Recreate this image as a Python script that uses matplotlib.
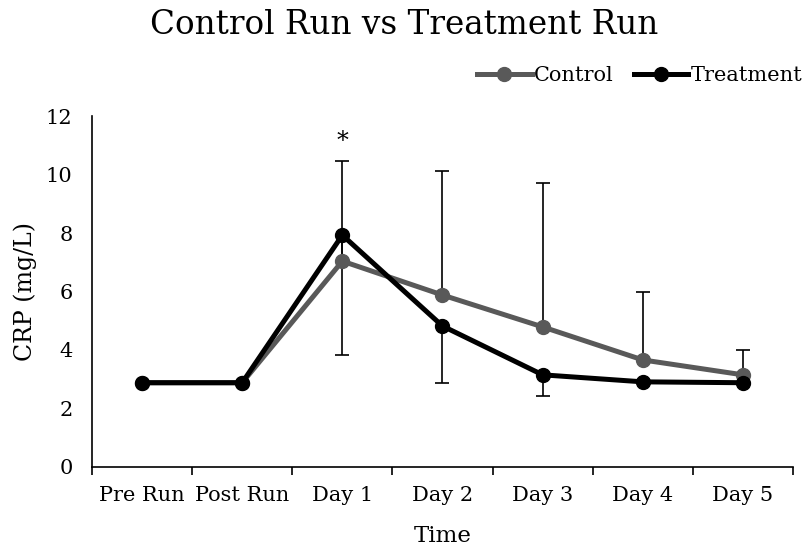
import matplotlib
matplotlib.use("Agg")
import matplotlib.pyplot as plt
import numpy as np

categories = ["Pre Run", "Post Run", "Day 1", "Day 2", "Day 3", "Day 4", "Day 5"]
control = [2.88, 2.88, 7.04, 5.88, 4.79, 3.66, 3.15]
treatment = [2.88, 2.88, 7.93, 4.82, 3.15, 2.91, 2.88]
control_err_up = [0, 0, 3.42, 4.24, 4.92, 2.32, 0.85]
treatment_err_down = [0, 0, 4.10, 1.95, 0.72, 0, 0]
yticks = [0, 2, 4, 6, 8, 10, 12]

plt.rcParams['font.family'] = ['DejaVu Serif']

fig = plt.figure(figsize=(8.09, 5.48), dpi=100)
ax = fig.add_axes([0.1137, 0.148, 0.8665, 0.64])
x = np.arange(len(categories))

grey = "#595959"
ax.plot(x, control, color=grey, lw=3.6, marker="o", ms=10, label="Control", zorder=3)
ax.plot(x, treatment, color="black", lw=3.6, marker="o", ms=10, label="Treatment", zorder=4)

ax.errorbar(x, control, yerr=[np.zeros(len(x)), control_err_up], fmt="none",
            ecolor="black", elinewidth=1.2, capsize=5, capthick=1.2, zorder=2)
ax.errorbar(x, treatment, yerr=[treatment_err_down, np.zeros(len(x))], fmt="none",
            ecolor="black", elinewidth=1.2, capsize=5, capthick=1.2, zorder=2)

ax.text(x[2], 10.75, "*", ha="center", va="bottom", fontsize=17)

ax.set_xlim(-0.5, 6.5)
ax.set_ylim(0, 12)
ax.set_yticks(yticks)
ax.set_xticks(x)
ax.set_xticklabels(categories)
ax.set_xticks(np.arange(-0.5, 7, 1), minor=True)
ax.tick_params(axis="x", which="major", length=0, labelsize=15, pad=14)
ax.tick_params(axis="x", which="minor", length=6, width=1.2, direction="out")
ax.tick_params(axis="y", length=0, labelsize=15, pad=14)
for s in ["top", "right"]:
    ax.spines[s].set_visible(False)
for s in ["left", "bottom"]:
    ax.spines[s].set_linewidth(1.2)

ax.set_xlabel("Time", fontsize=16.5, labelpad=14)
ax.set_ylabel("CRP (mg/L)", fontsize=17, labelpad=6)

fig.text(0.5, 0.955, "Control Run vs Treatment Run", ha="center", va="center", fontsize=23.5)

leg = ax.legend(loc="lower right", bbox_to_anchor=(1.025, 1.065), ncol=2, frameon=False,
                fontsize=15, handlelength=2.6, handletextpad=0.1, columnspacing=1.0,
                borderaxespad=0)

fig.savefig("out.png", dpi=100)
